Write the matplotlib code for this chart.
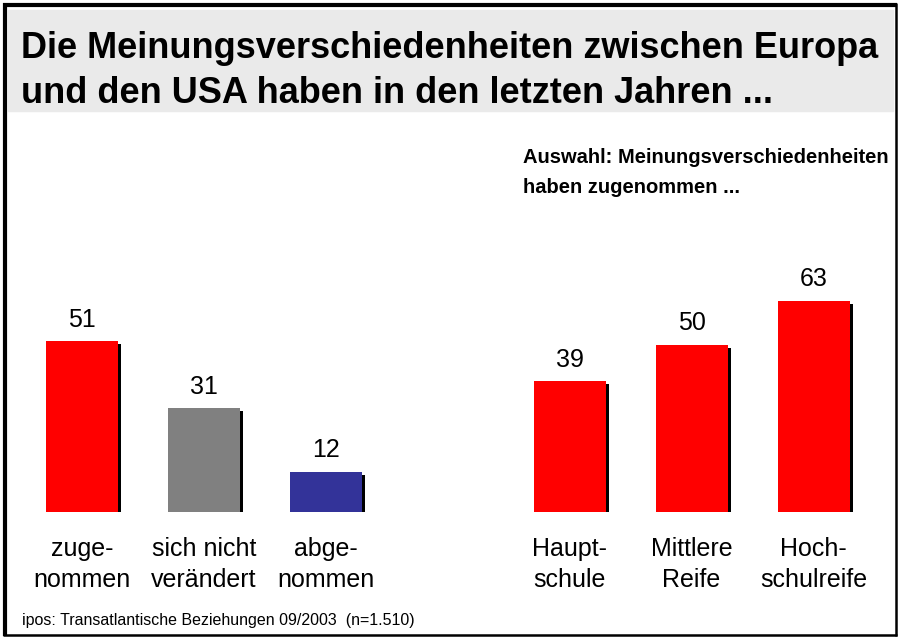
#Encoding: utf-8

import matplotlib
matplotlib.use("Agg")
import matplotlib.pyplot as plt
import matplotlib.patheffects as pe
from matplotlib.patches import Rectangle
from matplotlib.transforms import blended_transform_factory

plt.rcParams['font.family'] = ['Liberation Sans', 'DejaVu Sans']

'''
Datos del grafico.
'''

titulo = ["Die Meinungsverschiedenheiten zwischen Europa",
          "und den USA haben in den letzten Jahren ..."]
subtitulo = ["Auswahl: Meinungsverschiedenheiten",
             "haben zugenommen ..."]
fuente = "ipos: Transatlantische Beziehungen 09/2003  (n=1.510)"

cats_total = [("zuge-", "nommen"), ("sich nicht", "verändert"), ("abge-", "nommen")]
vals_total = [51, 31, 12]
cols_total = ["#ff0000", "#808080", "#333399"]

cats_bildung = [("Haupt-", "schule"), ("Mittlere", "Reife"), ("Hoch-", "schulreife")]
vals_bildung = [39, 50, 63]
cols_bildung = ["#ff0000", "#ff0000", "#ff0000"]


def plot_chart():
    W, H = 899, 637
    fig = plt.figure(figsize=(W / 100, H / 100), dpi=100)

    # Fondo en pixeles.
    bg = fig.add_axes([0, 0, 1, 1])
    bg.set_xlim(0, W)
    bg.set_ylim(H, 0)
    bg.axis("off")
    bg.add_patch(Rectangle((8, 10), 885, 101, color="#eaeaea", zorder=0))
    bg.plot([5, 5], [3, 636], color="black", lw=3, solid_capstyle="butt")
    bg.plot([3, 897], [5, 5], color="black", lw=3, solid_capstyle="butt")
    bg.plot([896, 896], [3, 636], color="black", lw=1.8, solid_capstyle="butt")
    bg.plot([3, 897], [635, 635], color="black", lw=1.8, solid_capstyle="butt")

    bg.text(21, 58, titulo[0], fontsize=26, fontweight="bold", va="baseline")
    bg.text(21, 103, titulo[1], fontsize=26, fontweight="bold", va="baseline")
    bg.text(523, 163, subtitulo[0], fontsize=14.5, fontweight="bold", va="baseline")
    bg.text(523, 193, subtitulo[1], fontsize=14.5, fontweight="bold", va="baseline")
    bg.text(22, 625, fuente, fontsize=11.5, va="baseline")

    # Barras.
    x0, x1 = 21, 874.5
    yb, ytop = 512, 512 - 3.35 * 70
    ax = fig.add_axes([x0 / W, (H - yb) / H, (x1 - x0) / W, (yb - ytop) / H])
    ax.patch.set_alpha(0)
    ax.set_xlim(-0.5, 6.5)
    ax.set_ylim(0, 70)
    ax.axis("off")

    xs = [0, 1, 2, 4, 5, 6]
    vals = vals_total + vals_bildung
    cols = cols_total + cols_bildung
    cats = cats_total + cats_bildung

    sombra = [pe.SimplePatchShadow(offset=(2.2, -2.2), shadow_rgbFace="black", alpha=1), pe.Normal()]
    bars = ax.bar(xs, vals, width=0.59, color=cols)
    for b in bars:
        b.set_path_effects(sombra)

    tr = blended_transform_factory(ax.transData, bg.transData)
    for x, v, c in zip(xs, vals, cats):
        ax.annotate(str(v), (x, v), xytext=(0, 10.5), textcoords="offset points",
                    ha="center", va="baseline", fontsize=18)
        ax.text(x, 556, c[0], transform=tr, ha="center", va="baseline", fontsize=18)
        ax.text(x, 587, c[1], transform=tr, ha="center", va="baseline", fontsize=18)

    fig.savefig("out.png", dpi=100)


if __name__ == "__main__":
    plot_chart()
